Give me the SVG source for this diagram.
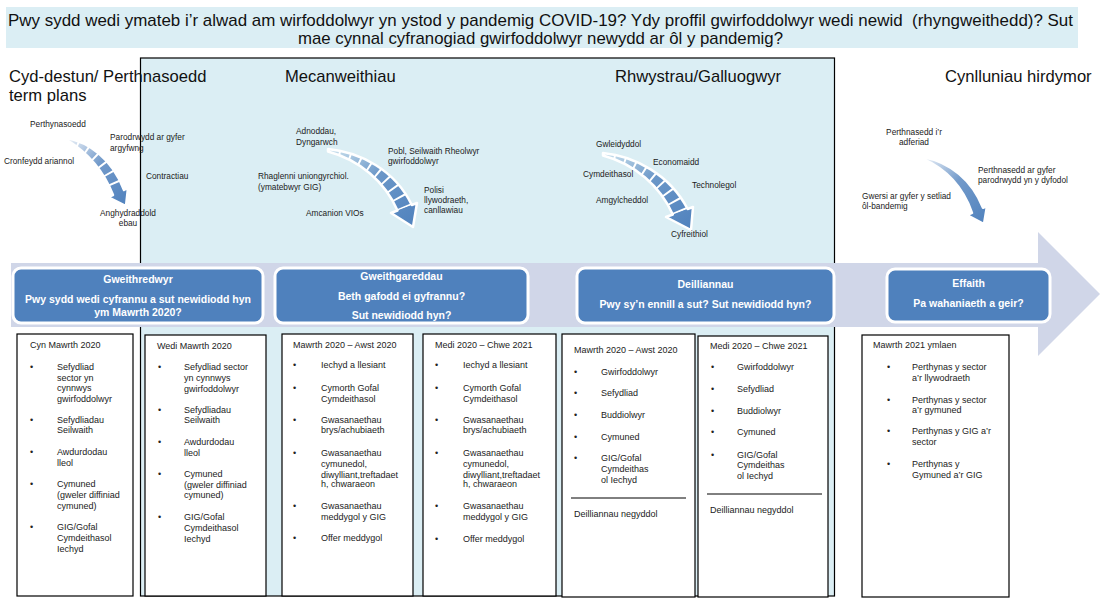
<svg xmlns="http://www.w3.org/2000/svg" width="1105" height="607" viewBox="0 0 1105 607">
<style>
text{font-family:"Liberation Sans",Arial,sans-serif;}
.ttl{font-family:"Liberation Sans Narrow","Liberation Sans",sans-serif;font-size:17px;fill:#111;white-space:pre;}
.hd{font-size:16.6px;fill:#111;}
.sm{font-size:8.3px;fill:#1a1a1a;}
.bx{font-size:10.5px;font-weight:bold;fill:#fff;text-anchor:middle;}
.lt{font-size:9px;fill:#222;}
.blue{fill:#4f81bd;stroke:#fff;stroke-width:3;}
.card{fill:#fff;stroke:#000;stroke-width:1.2;}
.arr{fill:url(#ag);stroke:#fff;stroke-width:2.5;stroke-linejoin:round;}
.dash{fill:none;stroke:#fff;stroke-width:16;stroke-dasharray:2 9;}
</style>
<defs>
<linearGradient id="ag" x1="0" y1="0" x2="1" y2="1">
<stop offset="0" stop-color="#4f81bd" stop-opacity="0.08"/>
<stop offset="0.45" stop-color="#4f81bd" stop-opacity="0.8"/>
<stop offset="1" stop-color="#4f81bd" stop-opacity="1"/>
</linearGradient>
<path id="s1" d="M67,138 C88,142 112,158 124,190 L113,195 C104,172 88,153 67,140 Z"/>
<path id="s2" d="M328,149 C360,152 395,170 411.8,205 L397.5,210.5 C385,182 360,160 328,151.5 Z"/>
<path id="s3" d="M603,153 C635,156 670,175 687.6,209 L672.8,214.5 C660,186 635,164 603,155.5 Z"/>
<clipPath id="c1"><use href="#s1"/></clipPath>
<clipPath id="c2"><use href="#s2"/></clipPath>
<clipPath id="c3"><use href="#s3"/></clipPath>
</defs>

<g id="title">
<rect x="6" y="7" width="1072" height="41" fill="#dbeef4"/>
<text class="ttl" x="540.5" y="26" text-anchor="middle" textLength="1065" lengthAdjust="spacingAndGlyphs">Pwy sydd wedi ymateb i’r alwad am wirfoddolwyr yn ystod y pandemig COVID-19? Ydy proffil gwirfoddolwyr wedi newid  (rhyngweithedd)? Sut</text>
<text class="ttl" x="540.5" y="44" text-anchor="middle" textLength="485" lengthAdjust="spacingAndGlyphs">mae cynnal cyfranogiad gwirfoddolwyr newydd ar ôl y pandemig?</text>
</g>

<g id="panel">
<rect x="140.5" y="58" width="694" height="538" fill="#dbeef4" stroke="#000" stroke-width="1.2"/>
</g>

<g id="headers">
<text class="hd" x="9" y="82">Cyd-destun/ Perthnasoedd</text>
<text class="hd" x="9" y="101">term plans</text>
<text class="hd" x="285" y="82">Mecanweithiau</text>
<text class="hd" x="615" y="82">Rhwystrau/Galluogwyr</text>
<text class="hd" x="945" y="82">Cynlluniau hirdymor</text>
</g>

<g id="timeline">
<polygon points="11,263 1038,263 1038,232 1100,294 1038,356 1038,327 11,327" fill="#d0d6e8"/>
</g>

<g id="node-gweithredwyr">
<rect class="blue" x="13" y="268" width="250" height="55" rx="8"/>
<text class="bx" x="138" y="283">Gweithredwyr</text>
<text class="bx" x="138" y="303">Pwy sydd wedi cyfrannu a sut newidiodd hyn</text>
<text class="bx" x="138" y="316">ym Mawrth 2020?</text>
</g>
<g id="node-gweithgareddau">
<rect class="blue" x="275" y="268" width="253" height="55" rx="8"/>
<text class="bx" x="401.5" y="280">Gweithgareddau</text>
<text class="bx" x="401.5" y="300">Beth gafodd ei gyfrannu?</text>
<text class="bx" x="401.5" y="319">Sut newidiodd hyn?</text>
</g>
<g id="node-deilliannau">
<rect class="blue" x="577" y="268" width="257" height="55" rx="8"/>
<text class="bx" x="705.5" y="288">Deilliannau</text>
<text class="bx" x="705.5" y="308">Pwy sy’n ennill a sut? Sut newidiodd hyn?</text>
</g>
<g id="node-effaith">
<rect class="blue" x="887" y="269" width="163" height="53" rx="8"/>
<text class="bx" x="968.5" y="287">Effaith</text>
<text class="bx" x="968.5" y="307">Pa wahaniaeth a geir?</text>
</g>

<g id="arrows">
<path class="arr" d="M67,138 C88,142 112,158 124,190 L128,188 L126,206 L108,197 L113,195 C104,172 88,153 67,140 Z"/>
<path class="dash" clip-path="url(#c1)" d="M67,139 C90,146 108,162 118,192"/>
<path class="arr" d="M328,149 C360,152 395,170 411.8,205 L417,203 L413,227 L391,213 L397.5,210.5 C385,182 360,160 328,151.5 Z"/>
<path class="dash" clip-path="url(#c2)" d="M328,150 C365,156 392,176 404.5,208"/>
<path class="arr" d="M603,153 C635,156 670,175 687.6,209 L693,207 L691,230 L666,217 L672.8,214.5 C660,186 635,164 603,155.5 Z"/>
<path class="dash" clip-path="url(#c3)" d="M603,154 C640,160 667,180 680,212"/>
<path class="arr" d="M923,157 C950,162 972,180 983,207.8 L987,206 L984,224 L967,215 L972,212.8 C964,190 948,170 923,159 Z"/>
</g>

<g id="labels-context">
<text class="sm" x="30" y="127">Perthynasoedd</text>
<text class="sm" x="110" y="140">Parodrwydd ar gyfer</text>
<text class="sm" x="110" y="151">argyfwng</text>
<text class="sm" x="4" y="164">Cronfeydd ariannol</text>
<text class="sm" x="146" y="179">Contractiau</text>
<text class="sm" x="128" y="216" text-anchor="middle">Anghydraddold</text>
<text class="sm" x="128" y="226" text-anchor="middle">ebau</text>
</g>
<g id="labels-mechanisms">
<text class="sm" x="296" y="134">Adnoddau,</text>
<text class="sm" x="296" y="145">Dyngarwch</text>
<text class="sm" x="388" y="154">Pobl, Seilwaith Rheolwyr</text>
<text class="sm" x="388" y="164">gwirfoddolwyr</text>
<text class="sm" x="258" y="179">Rhaglenni uniongyrchiol.</text>
<text class="sm" x="258" y="190">(ymatebwyr GIG)</text>
<text class="sm" x="424" y="193">Polisi</text>
<text class="sm" x="424" y="203">llywodraeth,</text>
<text class="sm" x="424" y="213">canllawiau</text>
<text class="sm" x="306" y="216">Amcanion VIOs</text>
</g>
<g id="labels-barriers">
<text class="sm" x="596" y="147">Gwleidyddol</text>
<text class="sm" x="653" y="165">Economaidd</text>
<text class="sm" x="583" y="177">Cymdeithasol</text>
<text class="sm" x="692" y="188">Technolegol</text>
<text class="sm" x="596" y="203">Amgylcheddol</text>
<text class="sm" x="671" y="237">Cyfreithiol</text>
</g>
<g id="labels-longterm">
<text class="sm" x="914" y="135" text-anchor="middle">Perthnasedd i’r</text>
<text class="sm" x="914" y="145" text-anchor="middle">adferiad</text>
<text class="sm" x="978" y="173">Perthnasedd ar gyfer</text>
<text class="sm" x="978" y="183">parodrwydd yn y dyfodol</text>
<text class="sm" x="862" y="199">Gwersi ar gyfer y setliad</text>
<text class="sm" x="862" y="209">ôl-bandemig</text>
</g>

<g id="card-cyn-mawrth">
<rect class="card" x="17" y="334" width="116" height="262"/>
<text class="lt" x="30" y="348">Cyn Mawrth 2020</text>
<text class="lt" x="30" y="370">•</text><text class="lt" x="57" y="370">Sefydliad</text>
<text class="lt" x="57" y="381">sector yn</text>
<text class="lt" x="57" y="391">cynnwys</text>
<text class="lt" x="57" y="402">gwirfoddolwyr</text>
<text class="lt" x="30" y="423">•</text><text class="lt" x="57" y="423">Sefydliadau</text>
<text class="lt" x="57" y="433">Seilwaith</text>
<text class="lt" x="30" y="455">•</text><text class="lt" x="57" y="455">Awdurdodau</text>
<text class="lt" x="57" y="466">lleol</text>
<text class="lt" x="30" y="487">•</text><text class="lt" x="57" y="487">Cymuned</text>
<text class="lt" x="57" y="498">(gweler diffiniad</text>
<text class="lt" x="57" y="509">cymuned)</text>
<text class="lt" x="30" y="530">•</text><text class="lt" x="57" y="530">GIG/Gofal</text>
<text class="lt" x="57" y="541">Cymdeithasol</text>
<text class="lt" x="57" y="552">Iechyd</text>
</g>

<g id="card-wedi-mawrth">
<rect class="card" x="145" y="335" width="121" height="261"/>
<text class="lt" x="157" y="349">Wedi Mawrth 2020</text>
<text class="lt" x="158" y="370">•</text><text class="lt" x="184" y="370">Sefydliad sector</text>
<text class="lt" x="184" y="381">yn cynnwys</text>
<text class="lt" x="184" y="392">gwirfoddolwyr</text>
<text class="lt" x="158" y="413">•</text><text class="lt" x="184" y="413">Sefydliadau</text>
<text class="lt" x="184" y="423">Seilwaith</text>
<text class="lt" x="158" y="445">•</text><text class="lt" x="184" y="445">Awdurdodau</text>
<text class="lt" x="184" y="456">lleol</text>
<text class="lt" x="158" y="477">•</text><text class="lt" x="184" y="477">Cymuned</text>
<text class="lt" x="184" y="488">(gweler diffiniad</text>
<text class="lt" x="184" y="498">cymuned)</text>
<text class="lt" x="158" y="520">•</text><text class="lt" x="184" y="520">GIG/Gofal</text>
<text class="lt" x="184" y="531">Cymdeithasol</text>
<text class="lt" x="184" y="542">Iechyd</text>
</g>

<g id="card-gweith-1">
<rect class="card" x="282" y="334" width="131" height="262"/>
<text class="lt" x="293" y="348">Mawrth 2020 – Awst 2020</text>
<text class="lt" x="293" y="368">•</text><text class="lt" x="321" y="368">Iechyd a llesiant</text>
<text class="lt" x="293" y="391">•</text><text class="lt" x="321" y="391">Cymorth Gofal</text>
<text class="lt" x="321" y="402">Cymdeithasol</text>
<text class="lt" x="293" y="423">•</text><text class="lt" x="321" y="423">Gwasanaethau</text>
<text class="lt" x="321" y="433">brys/achubiaeth</text>
<text class="lt" x="293" y="456">•</text><text class="lt" x="321" y="456">Gwasanaethau</text>
<text class="lt" x="321" y="467">cymunedol,</text>
<text class="lt" x="321" y="478">diwylliant,treftadaet</text>
<text class="lt" x="321" y="487">h, chwaraeon</text>
<text class="lt" x="293" y="509">•</text><text class="lt" x="321" y="509">Gwasanaethau</text>
<text class="lt" x="321" y="520">meddygol y GIG</text>
<text class="lt" x="293" y="541">•</text><text class="lt" x="321" y="541">Offer meddygol</text>
</g>

<g id="card-gweith-2">
<rect class="card" x="423" y="334" width="133" height="262"/>
<text class="lt" x="435" y="348">Medi 2020 – Chwe 2021</text>
<text class="lt" x="435" y="368">•</text><text class="lt" x="463" y="368">Iechyd a llesiant</text>
<text class="lt" x="435" y="391">•</text><text class="lt" x="463" y="391">Cymorth Gofal</text>
<text class="lt" x="463" y="402">Cymdeithasol</text>
<text class="lt" x="435" y="423">•</text><text class="lt" x="463" y="423">Gwasanaethau</text>
<text class="lt" x="463" y="433">brys/achubiaeth</text>
<text class="lt" x="435" y="456">•</text><text class="lt" x="463" y="456">Gwasanaethau</text>
<text class="lt" x="463" y="467">cymunedol,</text>
<text class="lt" x="463" y="478">diwylliant,treftadaet</text>
<text class="lt" x="463" y="487">h, chwaraeon</text>
<text class="lt" x="435" y="509">•</text><text class="lt" x="463" y="509">Gwasanaethau</text>
<text class="lt" x="463" y="520">meddygol y GIG</text>
<text class="lt" x="435" y="542">•</text><text class="lt" x="463" y="542">Offer meddygol</text>
</g>

<g id="card-deill-1">
<rect class="card" x="562" y="334" width="133" height="263"/>
<text class="lt" x="574" y="353">Mawrth 2020 – Awst 2020</text>
<text class="lt" x="574" y="375">•</text><text class="lt" x="601" y="375">Gwirfoddolwyr</text>
<text class="lt" x="574" y="396">•</text><text class="lt" x="601" y="396">Sefydliad</text>
<text class="lt" x="574" y="418">•</text><text class="lt" x="601" y="418">Buddiolwyr</text>
<text class="lt" x="574" y="440">•</text><text class="lt" x="601" y="440">Cymuned</text>
<text class="lt" x="574" y="461">•</text><text class="lt" x="601" y="461">GIG/Gofal</text>
<text class="lt" x="601" y="472">Cymdeithas</text>
<text class="lt" x="601" y="483">ol Iechyd</text>
<line x1="571" y1="498" x2="686" y2="498" stroke="#000" stroke-width="1"/>
<text class="lt" x="574" y="517">Deilliannau negyddol</text>
</g>

<g id="card-deill-2">
<rect class="card" x="698" y="336" width="130" height="261"/>
<text class="lt" x="710" y="349">Medi 2020 – Chwe 2021</text>
<text class="lt" x="711" y="370">•</text><text class="lt" x="737" y="370">Gwirfoddolwyr</text>
<text class="lt" x="711" y="392">•</text><text class="lt" x="737" y="392">Sefydliad</text>
<text class="lt" x="711" y="414">•</text><text class="lt" x="737" y="414">Buddiolwyr</text>
<text class="lt" x="711" y="435">•</text><text class="lt" x="737" y="435">Cymuned</text>
<text class="lt" x="711" y="458">•</text><text class="lt" x="737" y="458">GIG/Gofal</text>
<text class="lt" x="737" y="468">Cymdeithas</text>
<text class="lt" x="737" y="479">ol Iechyd</text>
<line x1="707" y1="494" x2="822" y2="494" stroke="#000" stroke-width="1"/>
<text class="lt" x="710" y="513">Deilliannau negyddol</text>
</g>

<g id="card-effaith">
<rect class="card" x="862" y="335" width="147" height="262"/>
<text class="lt" x="873" y="348">Mawrth 2021 ymlaen</text>
<text class="lt" x="887" y="370">•</text><text class="lt" x="912" y="370">Perthynas y sector</text>
<text class="lt" x="912" y="381">a’r llywodraeth</text>
<text class="lt" x="887" y="403">•</text><text class="lt" x="912" y="403">Perthynas y sector</text>
<text class="lt" x="912" y="413">a’r gymuned</text>
<text class="lt" x="887" y="434">•</text><text class="lt" x="912" y="434">Perthynas y GIG a’r</text>
<text class="lt" x="912" y="445">sector</text>
<text class="lt" x="887" y="467">•</text><text class="lt" x="912" y="467">Perthynas y</text>
<text class="lt" x="912" y="478">Gymuned a’r GIG</text>
</g>
</svg>
